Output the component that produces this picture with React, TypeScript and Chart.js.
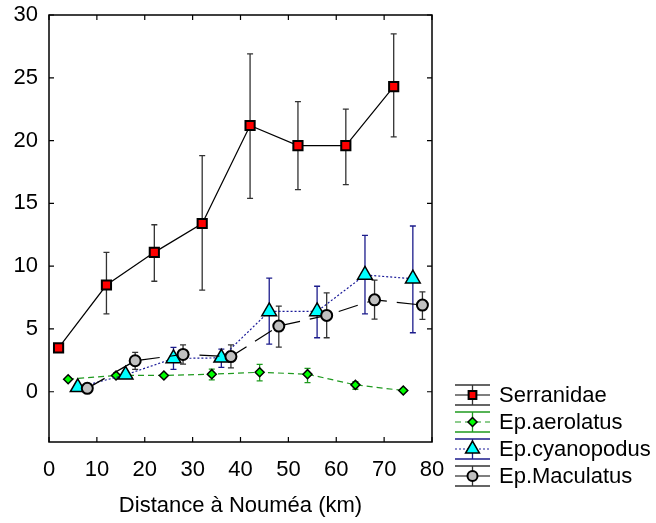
import React, { useEffect, useRef } from 'react';
import { Chart, registerables } from 'chart.js';
import { drawPoint } from 'chart.js/helpers';

Chart.register(...registerables);

const FONT = '"Liberation Sans", Arial, Helvetica, sans-serif';

const xTicks = [0, 10, 20, 30, 40, 50, 60, 70, 80];
const yTicks = [0, 5, 10, 15, 20, 25, 30];
const xTitle = 'Distance à Nouméa (km)';

const seriesNames = ['Serranidae', 'Ep.aerolatus', 'Ep.cyanopodus', 'Ep.Maculatus'];

const serranidaeX = [2, 12, 22, 32, 42, 52, 62, 72];
const serranidaeY = [3.5, 8.5, 11.1, 13.4, 21.2, 19.6, 19.6, 24.3];
const serranidaeLow = [3.5, 6.2, 8.8, 8.1, 15.4, 16.1, 16.5, 20.3];
const serranidaeHigh = [3.5, 11.1, 13.3, 18.8, 26.9, 23.1, 22.5, 28.5];

const aerolatusX = [4, 14, 24, 34, 44, 54, 64, 74];
const aerolatusY = [1.0, 1.3, 1.3, 1.4, 1.55, 1.4, 0.55, 0.1];
const aerolatusLow = [1.0, 1.3, 1.3, 0.95, 0.87, 0.72, 0.2, 0.1];
const aerolatusHigh = [1.0, 1.3, 1.3, 1.8, 2.18, 1.86, 0.8, 0.1];

const cyanopodusX = [6, 16, 26, 36, 46, 56, 66, 76];
const cyanopodusY = [0.35, 1.35, 2.65, 2.7, 6.4, 6.4, 9.3, 9.0];
const cyanopodusLow = [0.35, 1.35, 1.78, 1.95, 3.8, 4.3, 6.2, 4.7];
const cyanopodusHigh = [0.35, 1.35, 3.53, 3.4, 9.05, 8.4, 12.45, 13.2];

const maculatusX = [8, 18, 28, 38, 48, 58, 68, 78];
const maculatusY = [0.27, 2.47, 2.97, 2.8, 5.23, 6.08, 7.32, 6.9];
const maculatusLow = [0.27, 1.78, 2.2, 1.9, 3.56, 4.3, 5.78, 5.76];
const maculatusHigh = [0.27, 3.13, 3.74, 3.74, 6.82, 7.88, 8.89, 7.96];

const styles = [
  { fill: '#ff0000', line: '#000000', dash: [] as number[], err: '#333333', point: 'rect', r: 6.5, bw: 2, lr: 5.5 },
  { fill: '#00ff00', line: '#1f9a1f', dash: [6, 4], err: '#1f9a1f', point: 'rectRot', r: 4.5, bw: 1.5, lr: 4.5 },
  { fill: '#00ffff', line: '#1a1a99', dash: [2, 2], err: '#1c1c8c', point: 'triangle', r: 8.5, bw: 1.5, lr: 8 },
  { fill: '#c0c0c0', line: '#000000', dash: [20, 10], err: '#333333', point: 'circle', r: 5.5, bw: 2, lr: 5 },
];

const seriesX = [serranidaeX, aerolatusX, cyanopodusX, maculatusX];
const seriesY = [serranidaeY, aerolatusY, cyanopodusY, maculatusY];
const seriesLow = [serranidaeLow, aerolatusLow, cyanopodusLow, maculatusLow];
const seriesHigh = [serranidaeHigh, aerolatusHigh, cyanopodusHigh, maculatusHigh];

const errorBarPlugin = {
  id: 'errorBars',
  beforeDatasetsDraw(chart: any) {
    const ctx = chart.ctx;
    const xs = chart.scales.x;
    const ys = chart.scales.y;
    ctx.save();
    seriesX.forEach((xArr, si) => {
      ctx.strokeStyle = styles[si].err;
      ctx.lineWidth = 1.3;
      ctx.setLineDash([]);
      xArr.forEach((xv, i) => {
        const lo = seriesLow[si][i];
        const hi = seriesHigh[si][i];
        if (lo === hi) return;
        const px = xs.getPixelForValue(xv);
        const pl = ys.getPixelForValue(lo);
        const ph = ys.getPixelForValue(hi);
        ctx.beginPath();
        ctx.moveTo(px, pl);
        ctx.lineTo(px, ph);
        ctx.moveTo(px - 3, pl);
        ctx.lineTo(px + 3, pl);
        ctx.moveTo(px - 3, ph);
        ctx.lineTo(px + 3, ph);
        ctx.stroke();
      });
    });
    ctx.restore();
  },
};

const framePlugin = {
  id: 'frame',
  afterDatasetsDraw(chart: any) {
    const ctx = chart.ctx;
    const { left, right, top, bottom } = chart.chartArea;
    const xs = chart.scales.x;
    const ys = chart.scales.y;
    ctx.save();
    ctx.strokeStyle = '#000';
    ctx.lineWidth = 1.5;
    ctx.setLineDash([]);
    ctx.strokeRect(left, top, right - left, bottom - top);
    ctx.lineWidth = 1.2;
    ctx.beginPath();
    xTicks.forEach((v) => {
      const px = xs.getPixelForValue(v);
      ctx.moveTo(px, bottom);
      ctx.lineTo(px, bottom - 5);
      ctx.moveTo(px, top);
      ctx.lineTo(px, top + 5);
    });
    yTicks.forEach((v) => {
      const py = ys.getPixelForValue(v);
      ctx.moveTo(left, py);
      ctx.lineTo(left + 5, py);
      ctx.moveTo(right, py);
      ctx.lineTo(right - 5, py);
    });
    ctx.stroke();
    ctx.restore();
  },
};

const legendPlugin = {
  id: 'customLegend',
  afterDraw(chart: any) {
    const ctx = chart.ctx;
    const x0 = 455;
    const x1 = 490;
    const cx = (x0 + x1) / 2;
    ctx.save();
    seriesNames.forEach((name, i) => {
      const st = styles[i];
      const cy = 395 + i * 27;
      ctx.setLineDash([]);
      ctx.strokeStyle = st.err;
      ctx.lineWidth = 1.3;
      ctx.beginPath();
      ctx.moveTo(x0, cy - 10);
      ctx.lineTo(x1, cy - 10);
      ctx.moveTo(x0, cy + 10);
      ctx.lineTo(x1, cy + 10);
      ctx.moveTo(cx, cy - 10);
      ctx.lineTo(cx, cy + 10);
      ctx.stroke();
      ctx.strokeStyle = st.line;
      ctx.lineWidth = 1.2;
      ctx.setLineDash(st.dash.length && st.dash[0] > 10 ? [] : st.dash);
      ctx.beginPath();
      ctx.moveTo(x0, cy);
      ctx.lineTo(x1, cy);
      ctx.stroke();
      ctx.setLineDash([]);
      ctx.fillStyle = st.fill;
      ctx.strokeStyle = '#000';
      ctx.lineWidth = st.bw;
      drawPoint(ctx, { pointStyle: st.point as any, radius: st.lr, rotation: 0, borderWidth: st.bw }, cx, cy);
      ctx.fillStyle = '#000';
      ctx.font = `22px ${FONT}`;
      ctx.textAlign = 'left';
      ctx.textBaseline = 'middle';
      ctx.fillText(name, 499, cy + 1);
    });
    ctx.restore();
  },
};

export default function App() {
  const canvasRef = useRef<HTMLCanvasElement | null>(null);

  useEffect(() => {
    if (!canvasRef.current) return;
    Chart.defaults.font.family = FONT;
    const datasets = seriesNames.map((name, si) => ({
      label: name,
      data: seriesX[si].map((xv, i) => ({ x: xv, y: seriesY[si][i] })),
      borderColor: styles[si].line,
      borderWidth: 1.2,
      borderDash: styles[si].dash,
      backgroundColor: styles[si].fill,
      pointBackgroundColor: styles[si].fill,
      pointBorderColor: '#000',
      pointBorderWidth: styles[si].bw,
      pointStyle: styles[si].point,
      pointRadius: styles[si].r,
      pointHoverRadius: styles[si].r,
      tension: 0,
      fill: false,
      order: 3 - si,
    }));
    const chart = new Chart(canvasRef.current, {
      type: 'line',
      data: { datasets },
      options: {
        animation: false,
        responsive: false,
        maintainAspectRatio: false,
        layout: { padding: { left: 0, right: 224, top: 15, bottom: 0 } },
        plugins: { legend: { display: false }, tooltip: { enabled: false } },
        scales: {
          x: {
            type: 'linear',
            min: 0,
            max: 80,
            grid: { display: false, drawTicks: false },
            border: { display: false },
            ticks: { stepSize: 10, padding: 15, color: '#000', font: { size: 22 }, maxRotation: 0 },
            title: { display: true, text: xTitle, color: '#000', font: { size: 22 }, padding: { top: 0, bottom: 4 } },
            afterBuildTicks: (s: any) => {
              s.ticks = xTicks.map((v) => ({ value: v }));
            },
            afterFit: (s: any) => {
              s.height = 81;
              s.paddingLeft = 0;
              s.paddingRight = 0;
            },
          },
          y: {
            type: 'linear',
            min: -4,
            max: 30,
            grid: { display: false, drawTicks: false },
            border: { display: false },
            ticks: { padding: 11, color: '#000', font: { size: 22 } },
            afterBuildTicks: (s: any) => {
              s.ticks = yTicks.map((v) => ({ value: v }));
            },
            afterFit: (s: any) => {
              s.width = 49;
              s.paddingTop = 0;
              s.paddingBottom = 0;
            },
          },
        },
      },
      plugins: [errorBarPlugin, framePlugin, legendPlugin],
    } as any);
    return () => chart.destroy();
  }, []);

  return (
    <div style={{ position: 'absolute', left: 0, top: 0, width: 656, height: 523, background: '#fff' }}>
      <canvas ref={canvasRef} width={656} height={523} style={{ display: 'block' }} />
    </div>
  );
}
